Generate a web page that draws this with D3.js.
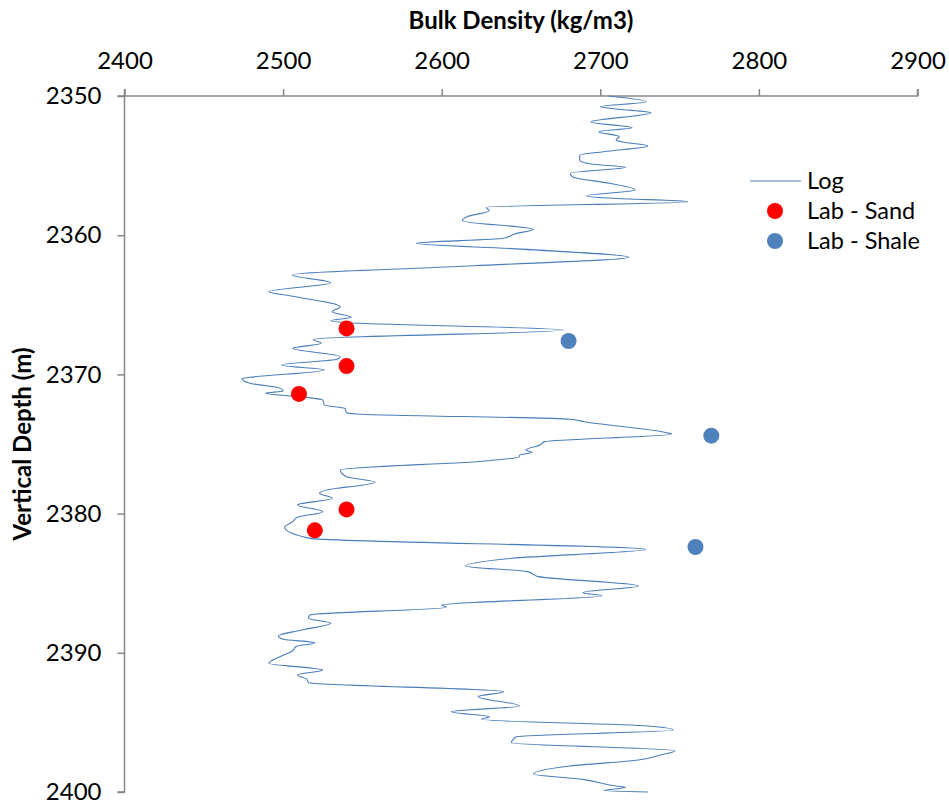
<!DOCTYPE html>
<html>
<head>
<meta charset="utf-8">
<script src="https://cdn.jsdelivr.net/npm/d3@7"></script>
<style>
  html, body { margin: 0; padding: 0; background: #fff; }
  svg { display: block; font-family: Lato, "Open Sans", sans-serif; }
</style>
</head>
<body>
<svg id="chart" width="949" height="800"></svg>
<script>
// Density log: depth (m) and bulk density (kg/m3)
const logDepth = [
  2350.0, 2350.41, 2350.77, 2350.93, 2351.2, 2351.87, 2352.28, 2352.56, 2352.92, 2353.16,
  2353.28, 2353.59, 2354.0, 2354.24, 2354.6, 2354.89, 2355.12, 2355.55, 2355.84, 2356.27,
  2356.75, 2357.18, 2357.35, 2357.59, 2358.0, 2358.24, 2358.67, 2358.96, 2359.58, 2359.91,
  2360.22, 2360.58, 2361.0, 2361.59, 2362.2, 2362.86, 2363.41, 2364.06, 2364.37, 2365.14,
  2365.5, 2365.9, 2366.14, 2366.29, 2366.81, 2367.48, 2367.77, 2368.13, 2368.73, 2368.92,
  2369.32, 2369.68, 2370.21, 2370.3, 2370.64, 2370.93, 2371.19, 2371.36, 2371.65, 2371.84,
  2372.2, 2372.44, 2372.75, 2372.84, 2373.22, 2373.4, 2374.19, 2374.28, 2374.83, 2375.07,
  2375.43, 2375.6, 2375.79, 2375.91, 2376.2, 2376.87, 2377.35, 2377.75, 2378.02, 2378.18,
  2378.54, 2378.9, 2379.38, 2379.86, 2380.27, 2380.58, 2380.98, 2381.78, 2382.57, 2383.21,
  2383.76, 2384.17, 2384.53, 2385.2, 2385.68, 2385.9, 2386.57, 2386.73, 2387.28, 2387.52,
  2387.88, 2388.36, 2388.79, 2389.03, 2389.27, 2389.56, 2389.85, 2390.28, 2390.75, 2391.24,
  2391.59, 2391.9, 2392.15, 2392.79, 2393.15, 2393.82, 2394.23, 2394.59, 2394.78, 2395.26,
  2395.55, 2396.03, 2396.46, 2397.03, 2397.34, 2397.7, 2398.13, 2398.71, 2399.09, 2399.57,
  2399.66, 2399.9, 2400.0
];
const logDensity = [
  2705, 2729, 2700, 2710, 2732, 2694, 2720, 2699, 2712, 2710,
  2713, 2730, 2702, 2687, 2687, 2694, 2716, 2681, 2683, 2706,
  2722, 2691, 2708, 2755, 2628, 2630, 2616, 2613, 2658, 2646,
  2639, 2584, 2650, 2718, 2620, 2506, 2530, 2491, 2505, 2536,
  2531, 2543, 2530, 2542, 2677, 2519, 2524, 2506, 2536, 2534,
  2499, 2526, 2479, 2474, 2479, 2496, 2500, 2489, 2515, 2525,
  2526, 2539, 2540, 2546, 2681, 2690, 2742, 2745, 2665, 2662,
  2653, 2657, 2649, 2649, 2630, 2536, 2540, 2558, 2546, 2534,
  2523, 2531, 2509, 2525, 2509, 2506, 2501, 2517, 2729, 2644,
  2615, 2654, 2661, 2724, 2689, 2701, 2600, 2603, 2517, 2516,
  2530, 2512, 2497, 2500, 2520, 2508, 2506, 2498, 2491, 2525,
  2509, 2515, 2516, 2639, 2623, 2649, 2606, 2630, 2625, 2730,
  2746, 2647, 2644, 2747, 2738, 2724, 2681, 2658, 2689, 2710,
  2716, 2702, 2730
];

// Core plug measurements
const sandDepth = [2366.7, 2369.4, 2371.4, 2379.7, 2381.2];
const sandDensity = [2540, 2540, 2510, 2540, 2520];
const shaleDepth = [2367.6, 2374.4, 2382.4];
const shaleDensity = [2680, 2770, 2760];

// Axis ticks
const densityTicks = [2400, 2500, 2600, 2700, 2800, 2900];
const depthTicks = [2350, 2360, 2370, 2380, 2390, 2400];

const legendLabels = ["Log", "Lab - Sand", "Lab - Shale"];

const AXIS = "#868686";
const LOG_BLUE = "#4a7ebb";
const SAND_RED = "#ff0000";
const SHALE_BLUE = "#4f81bd";

const svg = d3.select("#chart");
const plotL = 124.5, plotR = 917.5, plotT = 96, plotB = 792;

const x = d3.scaleLinear().domain([2400, 2900]).range([plotL, plotR]);
const y = d3.scaleLinear().domain([2350, 2400]).range([plotT, plotB]);

// Top density axis
const xAxis = svg.append("g")
  .attr("transform", `translate(0,${plotT})`)
  .call(d3.axisTop(x).tickValues(densityTicks).tickSize(7).tickPadding(20).tickFormat(d3.format("d")));

// Left depth axis
const yAxis = svg.append("g")
  .attr("transform", `translate(${plotL},0)`)
  .call(d3.axisLeft(y).tickValues(depthTicks).tickSize(7).tickPadding(16).tickFormat(d3.format("d")));

[xAxis, yAxis].forEach(g => {
  g.select(".domain").attr("stroke", AXIS).attr("stroke-width", 1.5);
  g.selectAll(".tick line").attr("stroke", AXIS).attr("stroke-width", 1.5);
  g.selectAll(".tick text")
    .attr("fill", "#000")
    .style("font-family", "Lato, sans-serif")
    .style("font-size", "24px");
});
xAxis.select(".domain").attr("d", `M${plotL},-7V0H${plotR}V-7`);
yAxis.select(".domain").attr("d", `M-7,${plotT}H0V${plotB}H-7`);

// Axis titles
svg.append("text")
  .attr("x", (plotL + plotR) / 2).attr("y", 29)
  .attr("text-anchor", "middle")
  .style("font-weight", "bold").style("font-size", "24px")
  .text("Bulk Density (kg/m3)");

svg.append("text")
  .attr("transform", `translate(31,${(plotT + plotB) / 2}) rotate(-90)`)
  .attr("text-anchor", "middle")
  .style("font-weight", "bold").style("font-size", "24px")
  .text("Vertical Depth (m)");

// Density log trace
const logData = logDepth.map((d, i) => ({ depth: d, rho: logDensity[i] }));
const line = d3.line()
  .x(d => x(d.rho))
  .y(d => y(d.depth))
  .curve(d3.curveMonotoneY);

svg.append("path")
  .datum(logData)
  .attr("fill", "none")
  .attr("stroke", LOG_BLUE)
  .attr("stroke-width", 1.1)
  .attr("d", line);

// Lab points
const sand = sandDepth.map((d, i) => ({ depth: d, rho: sandDensity[i] }));
const shale = shaleDepth.map((d, i) => ({ depth: d, rho: shaleDensity[i] }));

svg.append("g").selectAll("circle").data(sand).join("circle")
  .attr("cx", d => x(d.rho)).attr("cy", d => y(d.depth)).attr("r", 8)
  .attr("fill", SAND_RED);

svg.append("g").selectAll("circle").data(shale).join("circle")
  .attr("cx", d => x(d.rho)).attr("cy", d => y(d.depth)).attr("r", 8)
  .attr("fill", SHALE_BLUE);

// Legend
const legend = svg.append("g").attr("transform", "translate(750,181)");
const rowH = 30;
legend.append("line")
  .attr("x1", 0).attr("x2", 51).attr("y1", 0).attr("y2", 0)
  .attr("stroke", LOG_BLUE).attr("stroke-width", 1.1);
legend.append("circle").attr("cx", 25).attr("cy", rowH).attr("r", 8).attr("fill", SAND_RED);
legend.append("circle").attr("cx", 25).attr("cy", rowH * 2).attr("r", 8).attr("fill", SHALE_BLUE);
legend.selectAll("text.lbl").data(legendLabels).join("text")
  .attr("class", "lbl")
  .attr("x", 57).attr("y", (d, i) => i * rowH)
  .attr("dy", "0.35em")
  .style("font-size", "23.5px")
  .text(d => d);
</script>
</body>
</html>
